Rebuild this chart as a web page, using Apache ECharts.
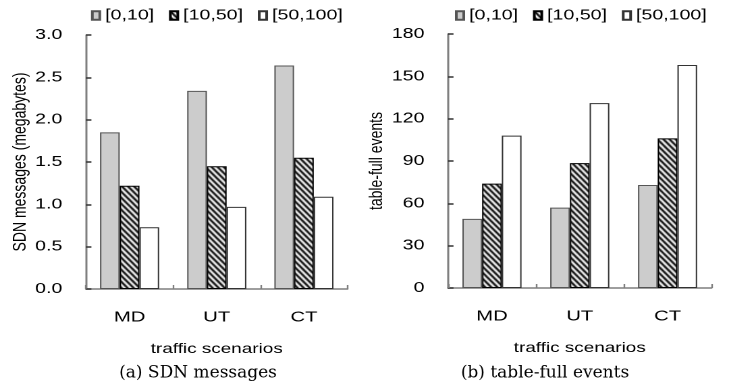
<!DOCTYPE html>
<html><head><meta charset="utf-8">
<script src="https://cdn.jsdelivr.net/npm/echarts@6/dist/echarts.min.js"></script>
<style>
html,body{margin:0;padding:0;background:#fff;overflow:hidden}
#c{width:544.4px;height:391px;transform:scaleX(1.35);transform-origin:0 0}
</style>
</head><body><div id="c"></div>
<script>
const categories = ['MD', 'UT', 'CT'];
const seriesNames = ['[0,10]', '[10,50]', '[50,100]'];
const sdn_0_10 = [1.85, 2.34, 2.64];
const sdn_10_50 = [1.22, 1.45, 1.55];
const sdn_50_100 = [0.73, 0.97, 1.09];
const tf_0_10 = [49, 57, 73];
const tf_10_50 = [74, 88.5, 106];
const tf_50_100 = [108, 131, 158];
const captions = ['(a) SDN messages', '(b) table-full events'];

const S = 1.35;

function hatch() {
  const w = 9, h = 12;
  const c = document.createElement('canvas');
  c.width = w; c.height = h;
  const g = c.getContext('2d');
  g.fillStyle = '#fff'; g.fillRect(0, 0, w, h);
  g.strokeStyle = '#000'; g.lineWidth = 1.7;
  g.beginPath();
  for (let k = -3; k <= 3; k++) {
    const c0 = k * 4.5;
    g.moveTo(c0 - 0.75 * 2, -2); g.lineTo(c0 + 0.75 * (h + 2), h + 2);
  }
  g.stroke();
  return {image: c, repeat: 'repeat'};
}
const hatchFill = hatch();

const FONT = 'Liberation Sans';
const axisCol = '#7f7f7f';
const styles = [
  {color: '#cccccc', borderColor: '#555555', borderWidth: 1},
  {color: hatchFill, borderColor: '#000000', borderWidth: 1},
  {color: '#ffffff', borderColor: '#333333', borderWidth: 1}
];

function xAx(gi) {
  return {
    type: 'category', gridIndex: gi, data: categories,
    name: 'traffic scenarios', nameLocation: 'middle', nameGap: 53,
    nameTextStyle: {fontFamily: FONT, fontSize: 14, color: '#000'},
    axisLine: {lineStyle: {color: axisCol, width: 1.5}},
    axisTick: {show: true, inside: true, length: 4, lineStyle: {color: axisCol, width: 1.2}},
    axisLabel: {fontFamily: FONT, fontSize: 15, color: '#000', margin: 21}
  };
}
function yAx(gi, max, interval, name, gap, fmt) {
  return {
    type: 'value', gridIndex: gi, min: 0, max: max, interval: interval,
    name: name, nameLocation: 'middle', nameGap: gap,
    nameTextStyle: {fontFamily: FONT, fontSize: 14, color: '#000'},
    axisLine: {show: true, lineStyle: {color: axisCol, width: 1.5}},
    axisTick: {show: true, inside: true, length: 4, lineStyle: {color: '#333', width: 1.5}},
    splitLine: {show: false},
    axisLabel: {fontFamily: FONT, fontSize: 14.5, color: '#000', margin: 17.5, formatter: fmt}
  };
}
const barW = 14.6;
function mk(name, data, idx, gi) {
  return {
    name: name, type: 'bar', xAxisIndex: gi, yAxisIndex: gi, data: data,
    barWidth: barW, barGap: '0%', itemStyle: styles[idx], emphasis: {disabled: true},
    animation: false
  };
}
const legendBase = {
  data: seriesNames.map((n) => ({name: n, icon: 'rect'})),
  itemWidth: 5.5, itemHeight: 8.5, itemGap: 11, padding: 0,
  textStyle: {fontFamily: FONT, fontSize: 14.5, color: '#000', padding: [0, 0, 0, -1]},
  top: 8, selectedMode: false
};
function caption(text, cx) {
  return {
    type: 'text', x: cx / S, y: 373, scaleX: 1 / S, silent: true,
    style: {text: text, font: '17px "DejaVu Serif"', fill: '#000',
            textAlign: 'center', textVerticalAlign: 'middle'}
  };
}

const chart = echarts.init(document.getElementById('c'), null, {renderer: 'canvas', devicePixelRatio: 2});
chart.setOption({
  animation: false,
  backgroundColor: '#fff',
  grid: [
    {left: 63.7, right: 286.6, top: 35, bottom: 102},
    {left: 331.9, right: 17, top: 34, bottom: 103}
  ],
  legend: [
    Object.assign({}, legendBase, {left: 67.4}),
    Object.assign({}, legendBase, {left: 337})
  ],
  graphic: [caption(captions[0], 198), caption(captions[1], 545)],
  xAxis: [xAx(0), xAx(1)],
  yAxis: [
    yAx(0, 3.0, 0.5, 'SDN messages (megabytes)', 38.5, (v) => v.toFixed(1)),
    yAx(1, 180, 30, 'table-full events', 31, (v) => String(v))
  ],
  series: [
    mk(seriesNames[0], sdn_0_10, 0, 0),
    mk(seriesNames[1], sdn_10_50, 1, 0),
    mk(seriesNames[2], sdn_50_100, 2, 0),
    mk(seriesNames[0], tf_0_10, 0, 1),
    mk(seriesNames[1], tf_10_50, 1, 1),
    mk(seriesNames[2], tf_50_100, 2, 1)
  ]
});
</script></body></html>
